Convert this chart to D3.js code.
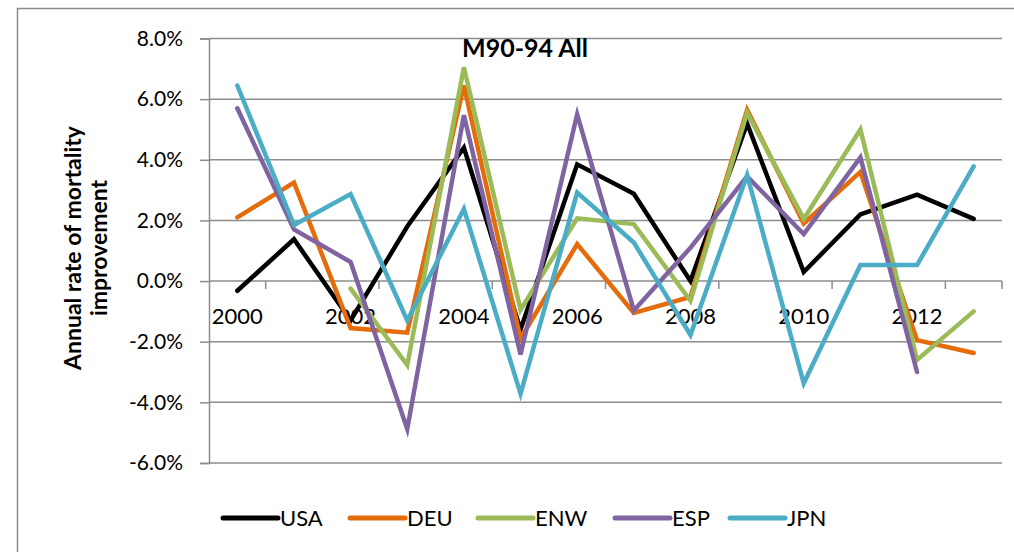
<!DOCTYPE html>
<html>
<head>
<meta charset="utf-8">
<script src="https://cdn.jsdelivr.net/npm/d3@7"></script>
<style>
  body { margin: 0; background: #fff; }
  svg { font-family: Lato, "Open Sans", sans-serif; }
</style>
</head>
<body>
<div id="chart"></div>
<script>
// data (annual rate, %)
var years = [2000, 2001, 2002, 2003, 2004, 2005, 2006, 2007, 2008, 2009, 2010, 2011, 2012, 2013];
var yearLabels = ["2000", "", "2002", "", "2004", "", "2006", "", "2008", "", "2010", "", "2012", ""];
var yTicks = [-0.06, -0.04, -0.02, 0, 0.02, 0.04, 0.06, 0.08];

var seriesNames = ["USA", "DEU", "ENW", "ESP", "JPN"];
var seriesColors = ["#000000", "#E46C0A", "#9BBB59", "#8064A2", "#4BACC6"];

var usa = [-0.32, 1.38, -1.3, 1.8, 4.4, -1.6, 3.85, 2.88, 0.0, 5.2, 0.3, 2.2, 2.85, 2.05];
var deu = [2.1, 3.25, -1.55, -1.7, 6.45, -1.9, 1.22, -1.05, -0.52, 5.65, 1.9, 3.6, -1.95, -2.37];
var enw = [null, null, -0.25, -2.77, 7.05, -0.95, 2.07, 1.88, -0.65, 5.55, 2.05, 5.0, -2.6, -1.0];
var esp = [5.7, 1.7, 0.63, -4.88, 5.47, -2.42, 5.5, -0.97, 1.1, 3.45, 1.55, 4.08, -3.0, null];
var jpn = [6.45, 1.85, 2.87, -1.3, 2.38, -3.72, 2.92, 1.27, -1.78, 3.5, -3.37, 0.53, 0.53, 3.78];

var seriesValues = [usa, deu, enw, esp, jpn];

var W = 1014, H = 552;
var svg = d3.select("#chart").append("svg")
    .attr("width", W)
    .attr("height", H);

// outer chart border
svg.append("rect")
    .attr("x", 17.5).attr("y", 8.5)
    .attr("width", 1010).attr("height", 560)
    .attr("fill", "none")
    .attr("stroke", "#8c8c8c")
    .attr("stroke-width", 1.5);

var plot = { left: 209, right: 1002, top: 38.5, bottom: 463 };

var x = d3.scaleBand()
    .domain(years)
    .range([plot.left, plot.right])
    .padding(0);

var y = d3.scaleLinear()
    .domain([-0.06, 0.08])
    .range([plot.bottom, plot.top]);

var pct = function(d) { return d3.format(".1f")(d * 100).replace("\u2212", "-") + "%"; };

// y axis with ticks sticking out left
var yAxis = svg.append("g")
    .attr("transform", "translate(" + plot.left + ",0)")
    .call(d3.axisLeft(y)
        .tickValues(yTicks)
        .tickSize(9)
        .tickPadding(17)
        .tickFormat(pct));
yAxis.select(".domain").attr("stroke", "#8c8c8c").attr("stroke-width", 1.5);
yAxis.selectAll(".tick line").attr("stroke", "#8c8c8c").attr("stroke-width", 1.5);
yAxis.selectAll(".tick text")
    .attr("font-size", 21)
    .attr("fill", "#000")
    .attr("font-family", "Lato, sans-serif");

// horizontal gridlines
svg.append("g")
    .selectAll("line")
    .data(yTicks)
    .enter().append("line")
    .attr("x1", plot.left)
    .attr("x2", plot.right)
    .attr("y1", function(d) { return y(d); })
    .attr("y2", function(d) { return y(d); })
    .attr("stroke", "#8c8c8c")
    .attr("stroke-width", 1.5);

// x axis sits at zero; tick marks every other category boundary
var xAxisG = svg.append("g")
    .attr("transform", "translate(0," + y(0) + ")");

var tickYears = years.filter(function(d, i) { return i % 2 == 0 || i == years.length - 1; });
xAxisG.selectAll("line.tk")
    .data(tickYears)
    .enter().append("line")
    .attr("class", "tk")
    .attr("x1", function(d) { return x(d) + x.bandwidth(); })
    .attr("x2", function(d) { return x(d) + x.bandwidth(); })
    .attr("y1", 0)
    .attr("y2", 8)
    .attr("stroke", "#8c8c8c")
    .attr("stroke-width", 1.5);

xAxisG.selectAll("text")
    .data(years)
    .enter().append("text")
    .attr("x", function(d) { return x(d) + x.bandwidth() / 2; })
    .attr("y", 43)
    .attr("text-anchor", "middle")
    .attr("font-size", 22)
    .attr("fill", "#000")
    .text(function(d, i) { return yearLabels[i]; });

// lines
var line = d3.line()
    .defined(function(d) { return d != null; })
    .x(function(d, i) { return x(years[i]) + x.bandwidth() / 2; })
    .y(function(d) { return y(d / 100); });

svg.append("g")
    .selectAll("path")
    .data(seriesValues)
    .enter().append("path")
    .attr("d", function(d) { return line(d); })
    .attr("fill", "none")
    .attr("stroke", function(d, i) { return seriesColors[i]; })
    .attr("stroke-width", 4.5)
    .attr("stroke-linejoin", "miter")
    .attr("stroke-linecap", "round");

// title
svg.append("text")
    .attr("x", 525)
    .attr("y", 57)
    .attr("text-anchor", "middle")
    .attr("font-size", 25)
    .attr("font-weight", "bold")
    .attr("fill", "#000")
    .text("M90-94 All");

// y axis title
var yTitle = svg.append("text")
    .attr("transform", "translate(81,248) rotate(-90)")
    .attr("text-anchor", "middle")
    .attr("font-size", 23)
    .attr("font-weight", "bold")
    .attr("fill", "#000");
yTitle.append("tspan").attr("x", 0).attr("dy", 0).text("Annual rate of mortality");
yTitle.append("tspan").attr("x", 0).attr("dy", 26).text("improvement");

// legend
var legendX = [223, 350, 478, 615, 730];
var legend = svg.append("g")
    .selectAll("g")
    .data(seriesNames)
    .enter().append("g")
    .attr("transform", function(d, i) { return "translate(" + legendX[i] + ",518)"; });

legend.append("line")
    .attr("x1", 0).attr("x2", 55)
    .attr("y1", 0).attr("y2", 0)
    .attr("stroke", function(d, i) { return seriesColors[i]; })
    .attr("stroke-width", 5)
    .attr("stroke-linecap", "round");

legend.append("text")
    .attr("x", 57)
    .attr("y", 8)
    .attr("font-size", 22)
    .attr("fill", "#000")
    .text(function(d) { return d; });
</script>
</body>
</html>
